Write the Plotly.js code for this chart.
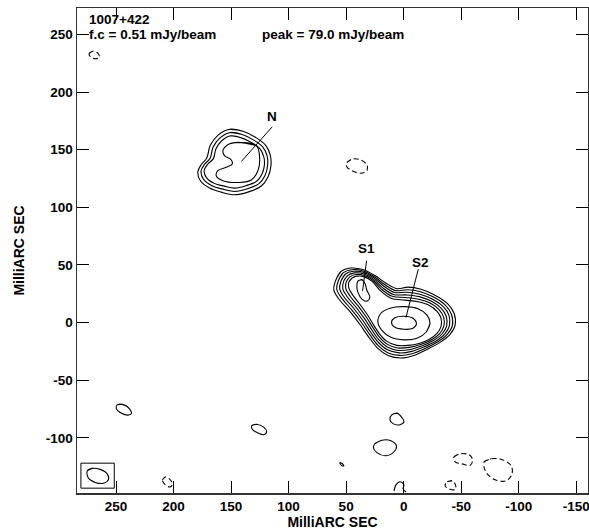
<!DOCTYPE html>
<html><head><meta charset="utf-8">
<script src="https://cdn.plot.ly/plotly-3.0.1.min.js"></script>
<style>html,body{margin:0;padding:0;background:#fff}#chart{width:589px;height:532px}</style>
</head><body><div id="chart"></div>
<script>
// ---- Axis ticks ----
const xTicks = [250, 200, 150, 100, 50, 0, -50, -100, -150];
const yTicks = [-100, -50, 0, 50, 100, 150, 200, 250];

// ---- Header texts ----
const sourceName = "1007+422";
const lowestContour = "f.c = 0.51 mJy/beam";
const peakText = "peak = 79.0 mJy/beam";

// ---- Component labels (name, text position, pointer start, pointer end) ----
const compNames = ["N", "S1", "S2"];
const compTextX = [114.5, 32.2, -14.2];
const compTextY = [179.0, 64.0, 52.3];
const compLineX0 = [114.2, 32.2, -12.7];
const compLineY0 = [169.9, 53.7, 46.4];
const compLineX1 = [141.1, 35.7, -2.0];
const compLineY1 = [139.8, 27.5, 4.4];

// ---- Northern component N: contours (levels 1..4) ----
const n1x = [151.3,139.7,128.0,119.9,115.9,115.3,117.9,123.7,135.4,147.0,158.5,168.7,176.8,178.9,176.0,171.1,168.1,161.5];
const n1y = [167.8,166.0,160.3,153.8,145.1,136.4,126.3,118.5,113.2,110.9,113.2,116.7,123.3,130.7,137.0,142.9,153.8,162.5];
const n2x = [150.7,140.3,129.9,122.5,118.7,118.2,120.5,125.7,136.4,146.8,157.2,166.6,174.2,176.1,173.1,168.2,165.6,159.8];
const n2y = [165.0,163.2,158.1,152.4,144.6,136.8,127.6,120.6,115.9,113.8,115.8,118.7,124.7,131.5,137.3,142.6,152.3,160.1];
const n3x = [150.0,140.9,131.7,125.0,121.6,121.0,123.1,127.8,137.4,146.6,155.9,164.6,171.6,173.3,170.2,165.4,163.1,158.1];
const n3y = [162.1,160.3,155.8,151.0,144.1,137.1,128.9,122.6,118.7,116.7,118.4,120.8,126.0,132.2,137.6,142.3,150.8,157.8];
const n4x = [144.1,128.0,125.2,126.7,132.4,142.6,157.1,162.9,161.5,154.2,149.0,149.8,155.7,157.1,152.8];
const n4y = [156.4,153.6,143.4,131.8,123.7,121.6,123.1,127.4,131.8,134.7,137.6,141.1,144.9,149.2,154.4];

// ---- Southern complex S1/S2: contours (levels 1..6 enclose both) ----
const s1x = [59.0,54.6,45.9,35.5,25.0,15.4,5.8,-3.7,-15.1,-26.4,-37.7,-43.8,-44.7,-40.3,-31.6,-20.3,-9.0,2.4,13.7,22.4,30.2,38.1,46.8,55.5,60.7];
const s1y = [36.8,44.2,47.3,46.0,40.8,34.2,29.4,30.8,29.0,24.2,16.8,8.1,-2.4,-10.2,-17.2,-23.3,-28.5,-30.7,-28.5,-22.4,-12.8,-1.5,9.8,19.4,28.1];
const s2x = [56.7,52.7,44.9,35.3,25.5,16.5,6.9,-3.2,-14.6,-25.5,-36.0,-41.5,-42.3,-38.0,-29.7,-18.9,-7.9,3.1,13.9,22.1,29.3,36.7,45.1,53.2,58.1];
const s2y = [36.5,43.1,45.9,44.8,39.8,33.0,27.7,28.5,26.8,22.4,15.4,7.2,-2.6,-10.0,-16.7,-22.3,-26.8,-28.5,-26.1,-20.0,-10.7,0.1,11.0,20.3,28.5];
const s3x = [54.5,50.8,43.8,35.2,26.0,17.5,7.9,-2.7,-14.1,-24.7,-34.2,-39.3,-39.8,-35.8,-27.8,-17.5,-6.9,3.8,14.0,21.7,28.5,35.3,43.3,51.0,55.5];
const s3y = [36.1,41.9,44.5,43.6,38.9,31.8,26.1,26.3,24.6,20.5,14.0,6.4,-2.7,-9.9,-16.2,-21.2,-25.0,-26.3,-23.6,-17.5,-8.6,1.6,12.2,21.1,28.8];
const s4x = [52.2,48.8,42.8,35.0,26.6,18.6,9.0,-2.1,-13.5,-23.8,-32.5,-37.0,-37.4,-33.5,-25.8,-16.1,-5.9,4.5,14.2,21.4,27.6,33.9,41.6,48.7,52.9];
const s4y = [35.8,40.8,43.1,42.3,37.9,30.5,24.4,24.0,22.5,18.7,12.6,5.5,-2.9,-9.7,-15.6,-20.2,-23.3,-24.2,-21.2,-15.1,-6.5,3.2,13.5,22.0,29.2];
const s5x = [49.9,46.9,41.7,34.8,27.1,19.6,10.0,-1.6,-13.0,-22.9,-30.7,-34.8,-34.9,-31.3,-23.9,-14.7,-4.8,5.2,14.4,21.0,26.7,32.5,39.8,46.5,50.3];
const s5y = [35.4,39.7,41.7,41.1,37.0,29.3,22.8,21.8,20.3,16.9,11.2,4.6,-3.1,-9.5,-15.1,-19.1,-21.5,-22.0,-18.7,-12.6,-4.4,4.8,14.7,22.9,29.5];
const s6x = [47.7,45.0,40.7,34.6,27.6,20.7,11.1,-1.1,-12.5,-22.0,-29.0,-32.5,-32.5,-29.0,-22.0,-13.3,-3.8,5.9,14.6,20.7,25.9,31.2,38.1,44.2,47.6];
const s6y = [35.1,38.5,40.3,39.9,36.0,28.1,21.1,19.5,18.1,15.1,9.8,3.7,-3.3,-9.3,-14.6,-18.1,-19.8,-19.8,-16.3,-10.2,-2.4,6.3,15.9,23.8,29.9];
// level 7: separate loops round S1 and S2
const s7ax = [39.8,36.3,33.7,32.0,29.4,32.0,36.3,39.8,40.7];
const s7ay = [36.0,37.3,34.2,28.1,22.0,18.6,20.3,26.4,31.6];
const s7bx = [-22.9,-19.4,-11.6,-0.3,11.1,18.9,22.4,19.8,11.9,-0.3,-12.5,-20.3];
const s7by = [-0.6,-8.4,-13.6,-15.0,-12.8,-6.7,0.3,8.1,12.5,13.8,12.0,6.4];
// level 8: core of S2
const s8x = [-11.1,-8.1,-0.3,7.6,10.6,7.6,-0.3,-8.1];
const s8y = [-1.5,-5.0,-5.8,-4.1,0.3,4.2,5.5,3.7];

// ---- Noise islands at the lowest positive level ----
const p1x = [248.9,243.6,238.4,236.7,240.2,246.3,249.7];
const p1y = [-71.2,-71.2,-74.6,-79.0,-80.3,-78.1,-74.6];
const p2x = [132.1,127.8,121.7,119.1,121.7,126.9,131.3];
const p2y = [-89.5,-88.2,-90.8,-94.7,-97.3,-95.6,-92.9];
const p3x = [10.2,5.8,1.5,-0.3,3.2,9.3,11.9];
const p3y = [-79.9,-78.6,-82.5,-86.0,-88.6,-87.7,-84.2];
const p4x = [25.0,18.9,11.1,6.3,8.4,15.4,23.3,26.3];
const p4y = [-105.1,-102.1,-102.5,-106.9,-112.1,-115.6,-112.9,-108.6];
const p5x = [55.5,53.7,52.0,53.7];
const p5y = [-121.7,-122.1,-124.3,-124.3];
const p6x = [8.4,6.7,3.2,-0.3,0.6,-2.0];   // open, runs off the lower edge
const p6y = [-146.1,-140.9,-138.2,-140.9,-144.4,-147.0];

// ---- Negative (dashed) islands ----
const m1x = [273.3,269.8,265.4,264.5,268.0,272.4];
const m1y = [233.7,235.5,233.3,230.2,228.9,230.7];
const m2x = [49.4,45.0,38.1,32.0,32.0,37.2,45.0,49.4];
const m2y = [138.8,141.8,141.4,137.0,131.8,129.6,131.8,135.3];
const m3x = [-43.8,-49.0,-56.9,-59.9,-57.8,-50.8,-44.7];
const m3y = [-116.5,-113.9,-114.7,-119.1,-123.9,-122.6,-120.8];
const m4x = [-70.0,-76.1,-85.7,-93.5,-93.9,-88.6,-79.5,-72.6,-70.0];
const m4y = [-120.8,-118.2,-119.1,-124.3,-132.1,-137.4,-136.5,-131.3,-126.1];
const m5x = [-37.7,-42.1,-45.1,-44.7,-39.5,-36.0];
const m5y = [-138.2,-137.4,-140.9,-144.8,-144.3,-141.7];
const m6x = [209.7,207.1,203.6,201.0,202.7,207.1];
const m6y = [-136.6,-134.0,-135.6,-140.0,-142.6,-140.9];

// ---- Restoring beam and its box ----
const beamX = [275.0,270.6,263.7,257.6,256.7,261.1,268.0,274.1];
const beamY = [-128.7,-126.5,-127.4,-131.3,-136.5,-139.5,-138.7,-134.8];
const beamBoxX = [280.5, 251.5, 251.5, 280.5, 280.5];
const beamBoxY = [-122.0, -122.0, -143.7, -143.7, -122.0];

// ---- Axis ranges ----
const xRange = [283.9, -160.2];
const yRange = [-147.9, 273.0];

// =====================================================
const traces = [];
function loop(xs, ys, dashed, closed = true) {
  const X = xs.slice(), Y = ys.slice();
  if (closed) { X.push(xs[0], xs[1]); Y.push(ys[0], ys[1]); }
  traces.push({
    type: 'scatter', mode: 'lines', x: X, y: Y, cliponaxis: true,
    line: {color: '#000', width: 1.1, shape: 'spline', smoothing: 1, dash: dashed ? '5px,3px' : 'solid'},
    hoverinfo: 'skip', showlegend: false
  });
}
[[n1x,n1y],[n2x,n2y],[n3x,n3y],[n4x,n4y],
 [s1x,s1y],[s2x,s2y],[s3x,s3y],[s4x,s4y],[s5x,s5y],[s6x,s6y],
 [s7ax,s7ay],[s7bx,s7by],[s8x,s8y],
 [p1x,p1y],[p2x,p2y],[p3x,p3y],[p4x,p4y],[p5x,p5y],[beamX,beamY]
].forEach(([a,b]) => loop(a,b,false));
loop(p6x, p6y, false, false);
[[m1x,m1y],[m2x,m2y],[m3x,m3y],[m4x,m4y],[m5x,m5y],[m6x,m6y]].forEach(([a,b]) => loop(a,b,true));

traces.push({type:'scatter', mode:'lines', x: beamBoxX, y: beamBoxY,
  line:{color:'#000', width:1}, hoverinfo:'skip', showlegend:false});

for (let i = 0; i < compNames.length; i++) {
  traces.push({type:'scatter', mode:'lines', x:[compLineX0[i], compLineX1[i]], y:[compLineY0[i], compLineY1[i]],
    line:{color:'#000', width:1}, hoverinfo:'skip', showlegend:false});
}

const fnt = {family: 'Liberation Sans, Arial, sans-serif', size: 13.5, color: '#000', weight: 'bold'};
const hdr = {family: 'Liberation Sans, Arial, sans-serif', size: 13.5, color: '#000', weight: 'bold'};
const annotations = compNames.map((t, i) => ({
  x: compTextX[i], y: compTextY[i], xref: 'x', yref: 'y', text: '<b>' + t + '</b>',
  showarrow: false, font: fnt, xanchor: 'center', yanchor: 'middle'
}));
annotations.push(
  {x: 0.019, y: 0.977, xref:'paper', yref:'paper', text:'<b>'+sourceName+'</b>', showarrow:false, font: hdr, xanchor:'left', yanchor:'middle'},
  {x: 0.019, y: 0.945, xref:'paper', yref:'paper', text:'<b>'+lowestContour+'</b>', showarrow:false, font: hdr, xanchor:'left', yanchor:'middle'},
  {x: 0.358, y: 0.945, xref:'paper', yref:'paper', text:'<b>'+peakText+'</b>', showarrow:false, font: hdr, xanchor:'left', yanchor:'middle'}
);

const axisCommon = {
  showgrid: false, zeroline: false, showline: true, linecolor: '#333', linewidth: 1.5, mirror: 'ticks',
  ticks: 'inside', ticklen: 12, tickwidth: 1, tickcolor: '#000', ticklabeloverflow: 'allow',
  tickfont: {family: 'Liberation Sans, Arial, sans-serif', size: 13.5, color: '#000', weight: 'bold'}
};
const ttl = {family: 'Liberation Sans, Arial, sans-serif', size: 14, color: '#000', weight: 'bold'};
const layout = {
  width: 589, height: 532,
  margin: {l: 77, r: 1, t: 8, b: 39},
  paper_bgcolor: '#fff', plot_bgcolor: '#fff',
  showlegend: false, hovermode: false,
  xaxis: Object.assign({}, axisCommon, {range: xRange, tickvals: xTicks, ticktext: xTicks.map(String),
    title: {text: '<b>MilliARC SEC</b>', font: ttl, standoff: 1}}),
  yaxis: Object.assign({}, axisCommon, {range: yRange, tickvals: yTicks, ticktext: yTicks.map(String),
    title: {text: '<b>MilliARC SEC</b>', font: ttl, standoff: 18}}),
  annotations: annotations
};
Plotly.newPlot('chart', traces, layout, {displayModeBar: false, staticPlot: true});
</script></body></html>
